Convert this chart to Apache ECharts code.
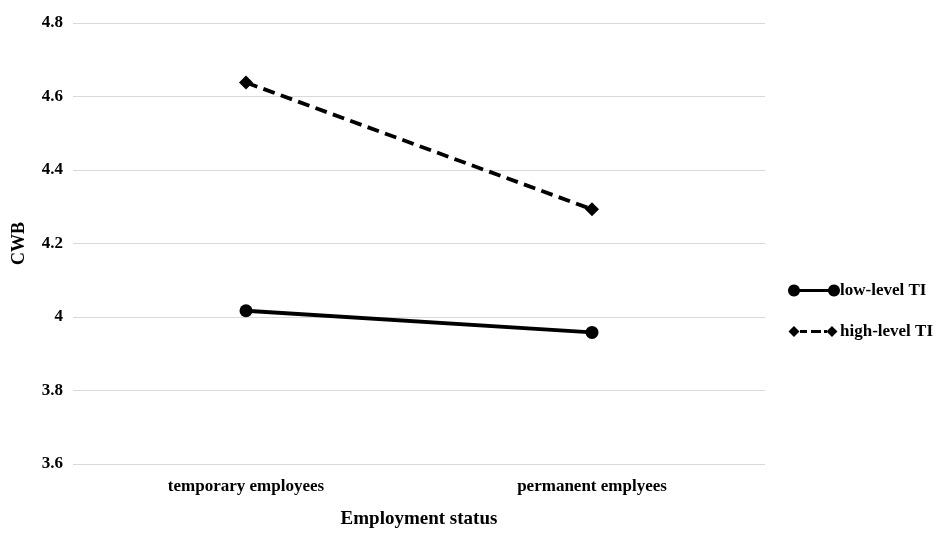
<!DOCTYPE html>
<html><head><meta charset="utf-8">
<script src="https://cdn.jsdelivr.net/npm/echarts@6/dist/echarts.min.js"></script>
<style>html,body{margin:0;padding:0;background:#fff;overflow:hidden}#c{width:933px;height:534px}</style>
</head><body><div id="c"></div>
<script>
const categories = ['temporary employees', 'permanent emplyees'];
const lowTI = [4.017, 3.958];
const highTI = [4.638, 4.293];
const yTicks = [3.6, 3.8, 4.0, 4.2, 4.4, 4.6, 4.8];

const font = '"Liberation Serif", "Times New Roman", serif';
const circ = (cx, cy, r) => {
  let p = '';
  for (let i = 0; i < 24; i++) {
    const a = i / 24 * Math.PI * 2;
    p += (i ? 'L' : 'M') + (cx + r * Math.cos(a)).toFixed(2) + ',' + (cy + r * Math.sin(a)).toFixed(2);
  }
  return p + 'Z';
};
const lowIcon = 'path://' + circ(6, 6, 6) + circ(46, 6, 6) + 'M11,4.5L41,4.5L41,7.5L11,7.5Z' + 'M0,0L0.01,0Z M52,12L52.01,12Z';
const highIcon = 'path://M6,0.5L11.5,6L6,11.5L0.5,6Z M44,0.5L49.5,6L44,11.5L38.5,6Z M12,4.5L19,4.5L19,7.5L12,7.5Z M23,4.5L33,4.5L33,7.5L23,7.5Z M36,4.5L39,4.5L39,7.5L36,7.5Z' + 'M0,0L0.01,0Z M52,12L52.01,12Z';

const chart = echarts.init(document.getElementById('c'));
chart.setOption({
  animation: false,
  grid: { left: 73, right: 168, top: 23, bottom: 65 },
  legend: {
    orient: 'vertical', left: 783, top: 277, itemGap: 24,
    itemWidth: 52, itemHeight: 12,
    textStyle: { fontFamily: font, fontWeight: 'bold', fontSize: 17, color: '#000', padding: [0, 0, 0, -5] },
    data: [
      { name: 'low-level TI', icon: lowIcon, itemStyle: { color: '#000' } },
      { name: 'high-level TI', icon: highIcon, itemStyle: { color: '#000' } }
    ]
  },
  xAxis: {
    type: 'category', data: categories, boundaryGap: true,
    name: 'Employment status', nameLocation: 'middle', nameGap: 46,
    nameTextStyle: { fontFamily: font, fontWeight: 'bold', fontSize: 19, color: '#000' },
    axisLine: { show: false }, axisTick: { show: false },
    axisLabel: { fontFamily: font, fontWeight: 'bold', fontSize: 17, color: '#000', margin: 14 }
  },
  yAxis: {
    type: 'value', min: 3.6, max: 4.8, interval: 0.2,
    name: 'CWB', nameLocation: 'middle', nameGap: 45,
    nameTextStyle: { fontFamily: font, fontWeight: 'bold', fontSize: 18, color: '#000' },
    axisLine: { show: false }, axisTick: { show: false },
    axisLabel: { fontFamily: font, fontWeight: 'bold', fontSize: 17, color: '#000', margin: 10,
      formatter: v => { const t = yTicks.find(x => Math.abs(x - v) < 1e-6); return t === undefined ? '' : String(+t.toFixed(1)); } },
    splitLine: { lineStyle: { color: '#d9d9d9', width: 1.2 } }
  },
  series: [
    { name: 'low-level TI', type: 'line', data: lowTI, symbol: 'circle', symbolSize: 13,
      lineStyle: { color: '#000', width: 3.8 }, itemStyle: { color: '#000' } },
    { name: 'high-level TI', type: 'line', data: highTI, symbol: 'diamond', symbolSize: [14, 14],
      lineStyle: { color: '#000', width: 3.8, type: [12, 6.5] }, itemStyle: { color: '#000' } }
  ]
});
</script></body></html>
